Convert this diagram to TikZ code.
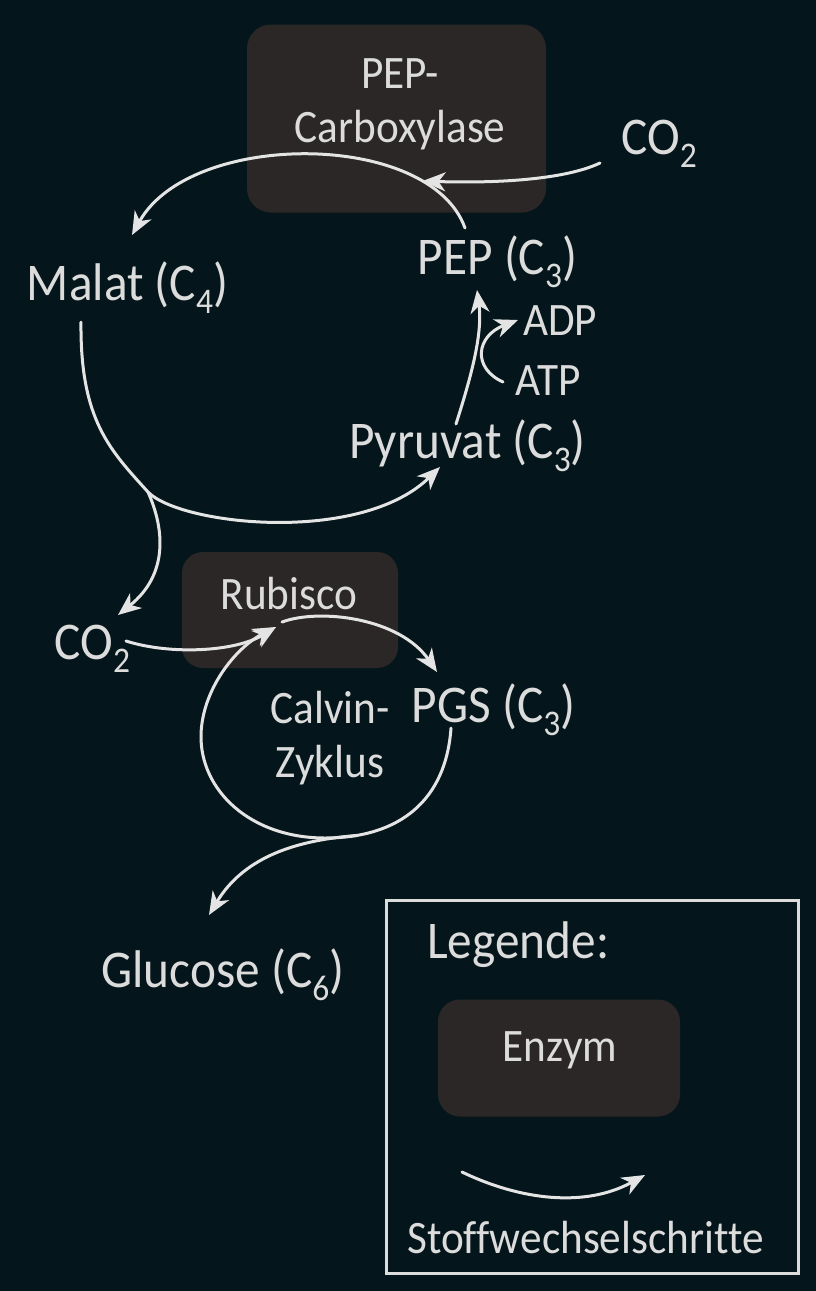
\documentclass[tikz,border=0pt]{standalone}
\usepackage{fontspec}
\setmainfont{Carlito}[FakeStretch=0.93, Ligatures=NoCommon]
\usepackage{graphicx}
\usetikzlibrary{arrows.meta}
\definecolor{bg}{HTML}{04161B}
\definecolor{boxfill}{HTML}{2A2726}
\definecolor{txt}{HTML}{DCDCDC}
\definecolor{ln}{HTML}{E4E4E4}
\newcommand\csub[1]{\raisebox{-0.25em}{\scalebox{0.68}{#1}}}
\begin{document}
\begin{tikzpicture}[x=1pt,y=-1pt,
  big/.style={font=\fontsize{53}{54}\selectfont, text=txt, inner sep=0pt, anchor=base},
  small/.style={font=\fontsize{46.5}{54}\selectfont, text=txt, inner sep=0pt, anchor=base, align=center},
  enzbox/.style={fill=boxfill, rounded corners=24pt, inner sep=0pt, draw=none},
  flow/.style={draw=ln, line width=3pt, line cap=round, -{Stealth[length=23pt,width=19pt,inset=7pt]}},
]
\useasboundingbox (0,0) rectangle (816,1291);
\fill[bg] (0,0) rectangle (816,1291);

% enzyme boxes
\node[enzbox, minimum width=299pt, minimum height=188pt] (carbox) at (396.5,118.5) {};
\node[enzbox, rounded corners=21pt, minimum width=216pt, minimum height=116pt] (rubbox) at (290,610) {};

% texts
\node[small] (carlabel) at (400,142) {PEP-\\Carboxylase};
\node[big] (co2a) at (659,154) {CO\csub{2}};
\node[big] (pep) at (497.5,274) {PEP (C\csub{3})};
\node[big] (malat) at (127.5,300) {Malat (C\csub{4})};
\node[small] (adp) at (560,335) {ADP};
\node[small] (atp) at (548.5,395) {ATP};
\node[big] (pyr) at (467.5,458) {Pyruvat (C\csub{3})};
\node[small] (rubisco) at (289,609) {Rubisco};
\node[big] (co2b) at (92.5,659) {CO\csub{2}};
\node[small] (calvin) at (330,777) {Calvin-\\Zyklus};
\node[big] (pgs) at (493.5,722) {PGS (C\csub{3})};
\node[big] (glucose) at (223,987) {Glucose (C\csub{6})};

% connector end points
\coordinate (co2a-out) at (600,163);
\coordinate (pep-out) at (465,228);
\coordinate (malat-in) at (132,235);
\coordinate (malat-s) at (81,322);
\coordinate (kink) at (148,492);
\coordinate (pyr-in) at (440,467);
\coordinate (pyr-out) at (456,424);
\coordinate (pep-in) at (477,290);
\coordinate (atp-out) at (503,382);
\coordinate (adp-in) at (518,320);
\coordinate (co2b-in) at (118,615);
\coordinate (co2b-out) at (126,641);
\coordinate (rub-in) at (276,627);
\coordinate (rub-out) at (282,622);
\coordinate (pgs-in) at (437,672);
\coordinate (pgs-s) at (451,728);
\coordinate (gluc-in) at (209,915);

% C4 part
\draw[flow] (pep-out) .. controls (430,130) and (190,130) .. (malat-in) coordinate[pos=0.2] (join1);
\draw[flow] (co2a-out) .. controls (560,182) and (480,183) .. (join1);
\draw[flow] (malat-s) .. controls (80,420) and (110,450) .. (kink) .. controls (180,525) and (360,545) .. (pyr-in);
\draw[flow] (kink) .. controls (165,530) and (168,575) .. (co2b-in);
\draw[flow] (pyr-out) .. controls (470,380) and (483,335) .. (pep-in);
\draw[flow] (atp-out) .. controls (472,368) and (476,336) .. (adp-in);

% Calvin cycle
\draw[flow] (co2b-out) .. controls (170,655) and (235,652) .. (rub-in);
\draw[flow] (rub-out) .. controls (320,608) and (400,618) .. (pgs-in);
\draw[flow] (pgs-s) .. controls (446,800) and (400,838) .. (325,838) coordinate[pos=0.85] (cbot)
   .. controls (250,838) and (200,790) .. (201,735) .. controls (202,690) and (235,648) .. (rub-in);
\draw[flow] (cbot) .. controls (300,840) and (245,855) .. (gluc-in);

% legend
\node[draw=txt, line width=3pt, minimum width=412pt, minimum height=373pt, inner sep=0pt] (legbox) at (592,1087) {};
\node[big, anchor=base west] (legende) at (427,958) {Legende:};
\node[enzbox, rounded corners=22pt, minimum width=242pt, minimum height=117pt] (legenz) at (559,1058) {};
\node[small] (enzym) at (560,1061) {Enzym};
\coordinate (leg-a) at (462,1172);
\coordinate (leg-b) at (645,1175);
\draw[flow] (leg-a) .. controls (520,1200) and (585,1208) .. (leg-b);
\node[small] (stoff) at (585.5,1253) {Stoffwechselschritte};
\end{tikzpicture}
\end{document}
